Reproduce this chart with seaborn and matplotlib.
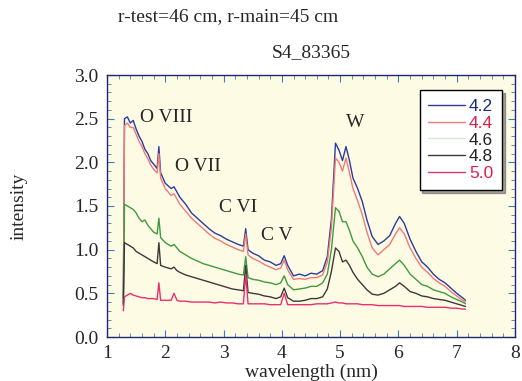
import numpy as np
import pandas as pd
import seaborn as sns
import matplotlib
matplotlib.use('Agg')
import matplotlib.pyplot as plt
from matplotlib.ticker import MultipleLocator

# longitudes de onda (nm) comunes a todas las curvas
wl = [1.28, 1.30, 1.35, 1.40, 1.45, 1.50, 1.55, 1.60, 1.65, 1.70, 1.75, 1.80,
      1.86, 1.89, 1.92, 2.00, 2.10, 2.15, 2.20, 2.25, 2.35, 2.45, 2.55, 2.65,
      2.75, 2.85, 2.95, 3.05, 3.15, 3.25, 3.34, 3.38, 3.42, 3.50, 3.60, 3.70,
      3.80, 3.90, 3.98, 4.04, 4.10, 4.20, 4.30, 4.40, 4.50, 4.60, 4.70, 4.78,
      4.85, 4.92, 4.98, 5.04, 5.10, 5.16, 5.22, 5.30, 5.38, 5.46, 5.55, 5.65,
      5.75, 5.85, 5.95, 6.02, 6.10, 6.20, 6.30, 6.40, 6.50, 6.60, 6.70, 6.80,
      6.90, 7.00, 7.10, 7.15]

i42 = [0.45, 2.50, 2.52, 2.45, 2.48, 2.38, 2.30, 2.24, 2.15, 2.10, 2.02, 1.98,
       1.93, 2.18, 1.88, 1.76, 1.70, 1.72, 1.66, 1.60, 1.52, 1.42, 1.36, 1.30,
       1.24, 1.19, 1.16, 1.12, 1.09, 1.06, 1.04, 1.24, 1.00, 0.96, 0.93, 0.88,
       0.86, 0.82, 0.84, 0.93, 0.82, 0.70, 0.72, 0.70, 0.73, 0.72, 0.76, 0.92,
       1.35, 2.22, 2.14, 2.02, 2.18, 2.02, 1.82, 1.70, 1.55, 1.34, 1.15, 1.06,
       1.10, 1.16, 1.30, 1.38, 1.30, 1.12, 0.98, 0.86, 0.80, 0.72, 0.66, 0.62,
       0.56, 0.50, 0.45, 0.42]

i44 = [0.40, 2.42, 2.45, 2.40, 2.40, 2.32, 2.24, 2.18, 2.10, 2.04, 1.97, 1.92,
       1.88, 2.10, 1.82, 1.70, 1.62, 1.64, 1.58, 1.52, 1.44, 1.36, 1.30, 1.24,
       1.18, 1.13, 1.10, 1.06, 1.03, 1.00, 0.98, 1.18, 0.94, 0.90, 0.87, 0.83,
       0.80, 0.77, 0.79, 0.88, 0.77, 0.66, 0.67, 0.66, 0.68, 0.68, 0.71, 0.86,
       1.25, 2.05, 2.00, 1.90, 2.05, 1.88, 1.70, 1.56, 1.40, 1.20, 1.02, 0.94,
       1.00, 1.06, 1.18, 1.25, 1.18, 1.02, 0.90, 0.80, 0.74, 0.67, 0.62, 0.58,
       0.52, 0.47, 0.42, 0.40]

i46 = [0.38, 1.52, 1.50, 1.48, 1.46, 1.42, 1.36, 1.32, 1.34, 1.28, 1.24, 1.20,
       1.18, 1.36, 1.14, 1.08, 1.04, 1.06, 1.02, 0.98, 0.94, 0.90, 0.87, 0.84,
       0.82, 0.80, 0.78, 0.76, 0.74, 0.72, 0.71, 0.92, 0.68, 0.66, 0.65, 0.63,
       0.62, 0.60, 0.62, 0.70, 0.60, 0.54, 0.55, 0.56, 0.58, 0.58, 0.62, 0.72,
       1.00, 1.48, 1.44, 1.32, 1.32, 1.22, 1.10, 1.02, 0.92, 0.80, 0.72, 0.69,
       0.72, 0.78, 0.84, 0.88, 0.82, 0.72, 0.66, 0.60, 0.58, 0.54, 0.52, 0.50,
       0.46, 0.43, 0.40, 0.38]

i48 = [0.36, 1.08, 1.06, 1.04, 1.02, 0.98, 0.96, 0.94, 0.92, 0.90, 0.88, 0.86,
       0.84, 1.08, 0.82, 0.80, 0.78, 0.80, 0.76, 0.74, 0.71, 0.69, 0.67, 0.65,
       0.63, 0.61, 0.59, 0.57, 0.55, 0.54, 0.53, 0.82, 0.51, 0.50, 0.49, 0.47,
       0.46, 0.44, 0.46, 0.56, 0.45, 0.41, 0.41, 0.42, 0.44, 0.44, 0.46, 0.55,
       0.75, 1.02, 0.98, 0.86, 0.88, 0.82, 0.74, 0.66, 0.60, 0.54, 0.49, 0.48,
       0.50, 0.54, 0.58, 0.62, 0.58, 0.52, 0.50, 0.47, 0.46, 0.44, 0.43, 0.42,
       0.40, 0.38, 0.36, 0.35]

i50 = [0.30, 0.46, 0.48, 0.50, 0.48, 0.47, 0.46, 0.45, 0.45, 0.44, 0.44, 0.44,
       0.43, 0.62, 0.42, 0.42, 0.42, 0.50, 0.42, 0.41, 0.41, 0.40, 0.40, 0.40,
       0.40, 0.39, 0.40, 0.39, 0.39, 0.38, 0.38, 0.72, 0.38, 0.38, 0.38, 0.38,
       0.37, 0.37, 0.37, 0.50, 0.37, 0.37, 0.37, 0.37, 0.37, 0.38, 0.38, 0.38,
       0.39, 0.40, 0.39, 0.39, 0.38, 0.38, 0.38, 0.38, 0.37, 0.37, 0.37, 0.36,
       0.36, 0.36, 0.36, 0.36, 0.35, 0.35, 0.35, 0.35, 0.34, 0.34, 0.34, 0.34,
       0.33, 0.33, 0.32, 0.32]

labels = ['4.2', '4.4', '4.6', '4.8', '5.0']
series = [i42, i44, i46, i48, i50]
line_colors = ['#2a3c9e', '#f07a7a', '#3f9a3f', '#3a3a3a', '#e8306e']
text_colors = ['#1c2a7a', '#e0204a', '#222222', '#222222', '#e0204a']

lines_txt = ['O VIII', 'O VII', 'C VI', 'C V', 'W']
lines_x = [2.01, 2.56, 3.25, 3.92, 5.25]
lines_y = [2.51, 1.95, 1.48, 1.16, 2.46]

sns.set_style('ticks')
plt.rcParams['font.family'] = ['Liberation Serif', 'DejaVu Serif']

fig = plt.figure(figsize=(5.22, 3.81), dpi=100)
ax = fig.add_axes([107/522, 1 - 337/381, 408/522, 262/381])
ax.set_facecolor('#fefbe4')

for lab, vals, c in zip(labels, series, line_colors):
    df = pd.DataFrame({'wavelength': wl, 'intensity': vals})
    sns.lineplot(data=df, x='wavelength', y='intensity', ax=ax, color=c,
                 linewidth=1.0, label=lab)

for t, x, y in zip(lines_txt, lines_x, lines_y):
    ax.text(x, y, t, ha='center', va='center', fontsize=14)

ax.set_xlim(1, 8)
ax.set_ylim(0, 3)
ax.xaxis.set_major_locator(MultipleLocator(1))
ax.xaxis.set_minor_locator(MultipleLocator(0.2))
ax.yaxis.set_major_locator(MultipleLocator(0.5))
ax.yaxis.set_minor_locator(MultipleLocator(0.1))
ax.xaxis.set_major_formatter(matplotlib.ticker.FormatStrFormatter('%d'))
ax.yaxis.set_major_formatter(matplotlib.ticker.FormatStrFormatter('%.1f'))
ax.tick_params(which='both', direction='in', top=True, right=True,
               color='#3a7ac8', labelsize=14)
ax.tick_params(which='major', length=5, pad=6)
ax.tick_params(which='minor', length=3)
for s in ax.spines.values():
    s.set_color('#1c2a6a')
    s.set_linewidth(1.0)

ax.set_xlabel('wavelength (nm)', fontsize=14)
ax.xaxis.set_label_coords(0.5, -(364 - 337) / 262)
ax.set_ylabel('intensity', fontsize=14)
ax.yaxis.set_label_coords(-(107 - 28) / 408, 0.5)

leg = ax.legend(loc='upper right', bbox_to_anchor=(0.968, 0.943), frameon=True,
                fancybox=False, shadow=True, handlelength=2.1,
                borderaxespad=0.0,
                prop={'family': 'Liberation Sans', 'size': 12.5},
                borderpad=0.5, labelspacing=0.1, handletextpad=0.25)
leg.get_frame().set_edgecolor('black')
leg.get_frame().set_facecolor('white')
for txt, c in zip(leg.get_texts(), text_colors):
    txt.set_color(c)
leg.get_lines()[2].set_color('#d8ecd0')

fig.text(118/522, 1 - 17/381, 'r-test=46 cm, r-main=45 cm', fontsize=14,
         ha='left', va='center')
fig.text(311/522, 1 - 53/381, 'S4_83365', fontsize=14, ha='center', va='center')

fig.savefig('out.png', dpi=100, facecolor='white')
